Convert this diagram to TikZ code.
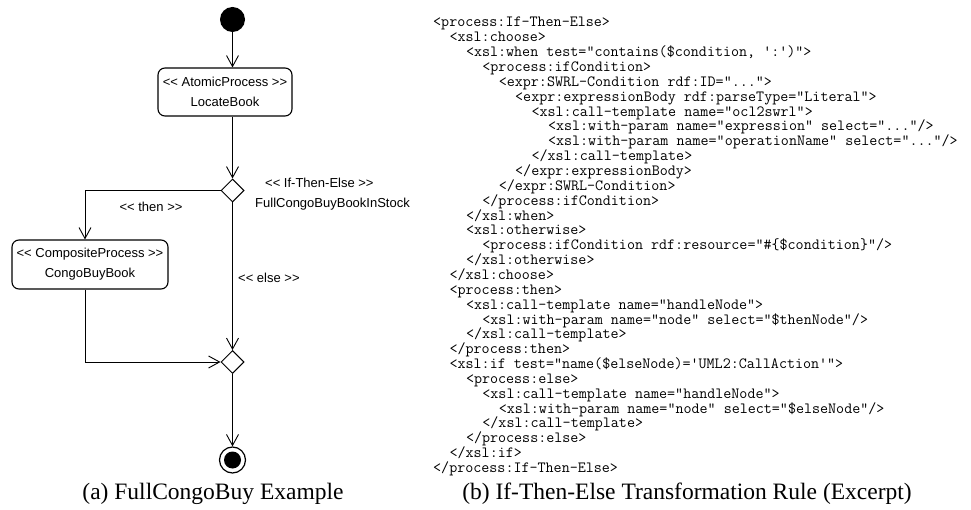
\documentclass[tikz,border=0pt]{standalone}
\usepackage{fontspec}
\newfontfamily\umlfont{Liberation Sans}
\newfontfamily\capfont{Liberation Serif}
\usetikzlibrary{arrows.meta,shapes.geometric}
\newcommand\stl{<\kern0pt<}
\newcommand\stg{>\kern0pt>}
\begin{document}
\begin{tikzpicture}[x=1pt,y=-1pt,
  flow/.style={draw, line width=0.9pt, -{Straight Barb[length=11pt,width=12pt,line width=0.9pt]}},
  actbox/.style={draw, line width=1.1pt, rounded corners=7pt, inner sep=0pt, align=center,
    font=\umlfont\fontsize{13}{20}\selectfont},
  decision/.style={draw, diamond, line width=1pt, minimum width=23pt, minimum height=23pt, inner sep=0pt},
  umllabel/.style={inner sep=0pt, font=\umlfont\fontsize{13}{15}\selectfont},
  code/.style={inner sep=0pt, anchor=base west, font=\ttfamily\fontsize{15.6}{15}\selectfont\frenchspacing},
  captext/.style={inner sep=0pt, anchor=base, font=\capfont\fontsize{23.5}{26}\selectfont}]
\fill[white] (0,0) rectangle (971,510);
\useasboundingbox (0,0) rectangle (971,510);

% ---------- activity diagram ----------
\node[circle, fill=black, minimum size=25pt, inner sep=0pt] (init) at (232.5,19.5) {};
\node[actbox, minimum width=134pt, minimum height=48pt] (locate) at (225,92)
  {\stl\ AtomicProcess \stg\\LocateBook};
\node[decision] (d1) at (232.5,190.5) {};
\node[actbox, minimum width=156pt, minimum height=49pt] (comp) at (90,264.5)
  {\stl\ CompositeProcess \stg\\CongoBuyBook};
\node[decision] (d2) at (232.5,362) {};
\node[circle, draw, line width=1.2pt, minimum size=26pt, inner sep=0pt,
  path picture={\fill[black] (path picture bounding box.center) circle (8.5pt);}] (final) at (232.5,460) {};

\coordinate (thenx) at (85,190.5);

\draw[flow] (init) -- (init |- locate.north);
\draw[flow] (d1 |- locate.south) -- (d1.north);
\draw[flow] (d1.west) -- (thenx) -- (thenx |- comp.north);
\draw[flow] (d1.south) -- (d2.north);
\draw[flow] (thenx |- comp.south) -- (thenx |- d2) -- (d2.west);
\draw[flow] (d2.south) -- (final.north);

\node[umllabel, anchor=west] (ite) at (265,183) {\stl\ If-Then-Else \stg};
\node[umllabel, anchor=west] (itename) at (255,204) {FullCongoBuyBookInStock};
\node[umllabel] (thenlbl) at (151,207) {\stl\ then \stg};
\node[umllabel, anchor=west] (elselbl) at (238,278) {\stl\ else \stg};

\node[captext] (capa) at (213,499) {(a) FullCongoBuy Example};

% ---------- code listing ----------
\node[code] (l1)  at (433.0, 27.00) {<process:If-Then-Else>};
\node[code] (l2)  at (449.4, 41.85) {<xsl:choose>};
\node[code] (l3)  at (465.8, 56.70) {<xsl:when test="contains(\$condition, ':')">};
\node[code] (l4)  at (482.2, 71.55) {<process:ifCondition>};
\node[code] (l5)  at (498.6, 86.40) {<expr:SWRL-Condition rdf:ID="...">};
\node[code] (l6)  at (515.0,101.25) {<expr:expressionBody rdf:parseType="Literal">};
\node[code] (l7)  at (531.4,116.10) {<xsl:call-template name="ocl2swrl">};
\node[code] (l8)  at (547.8,130.95) {<xsl:with-param name="expression" select="..."/>};
\node[code] (l9)  at (547.8,145.80) {<xsl:with-param name="operationName" select="..."/>};
\node[code] (l10) at (531.4,160.65) {</xsl:call-template>};
\node[code] (l11) at (515.0,175.50) {</expr:expressionBody>};
\node[code] (l12) at (498.6,190.35) {</expr:SWRL-Condition>};
\node[code] (l13) at (482.2,205.20) {</process:ifCondition>};
\node[code] (l14) at (465.8,220.05) {</xsl:when>};
\node[code] (l15) at (465.8,234.90) {<xsl:otherwise>};
\node[code] (l16) at (482.2,249.75) {<process:ifCondition rdf:resource="\#\{\$condition\}"/>};
\node[code] (l17) at (465.8,264.60) {</xsl:otherwise>};
\node[code] (l18) at (449.4,279.45) {</xsl:choose>};
\node[code] (l19) at (449.4,294.30) {<process:then>};
\node[code] (l20) at (465.8,309.15) {<xsl:call-template name="handleNode">};
\node[code] (l21) at (482.2,324.00) {<xsl:with-param name="node" select="\$thenNode"/>};
\node[code] (l22) at (465.8,338.85) {</xsl:call-template>};
\node[code] (l23) at (449.4,353.70) {</process:then>};
\node[code] (l24) at (449.4,368.55) {<xsl:if test="name(\$elseNode)='UML2:CallAction'">};
\node[code] (l25) at (465.8,383.40) {<process:else>};
\node[code] (l26) at (482.2,398.25) {<xsl:call-template name="handleNode">};
\node[code] (l27) at (498.6,413.10) {<xsl:with-param name="node" select="\$elseNode"/>};
\node[code] (l28) at (482.2,427.95) {</xsl:call-template>};
\node[code] (l29) at (465.8,442.80) {</process:else>};
\node[code] (l30) at (449.4,457.65) {</xsl:if>};
\node[code] (l31) at (433.0,472.50) {</process:If-Then-Else>};

\node[captext] (capb) at (687,499) {(b) If-Then-Else Transformation Rule (Excerpt)};
\end{tikzpicture}
\end{document}
